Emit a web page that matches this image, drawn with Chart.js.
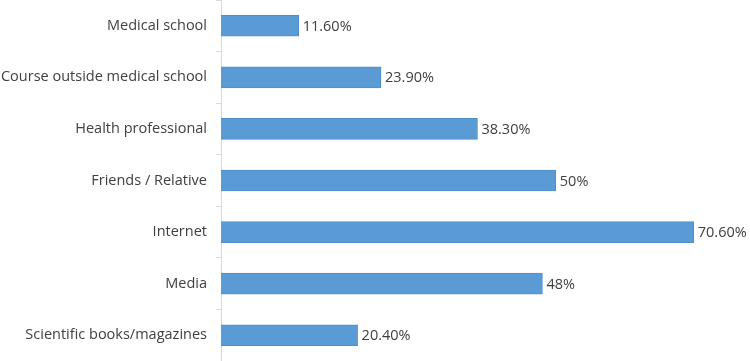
<!DOCTYPE html>
<html>
<head>
<meta charset="utf-8">
<script src="https://cdn.jsdelivr.net/npm/chart.js@4/dist/chart.umd.min.js"></script>
<style>
    html, body { margin: 0; padding: 0; background: #ffffff; }
    canvas { display: block; }
</style>
</head>
<body>
<canvas id="chart" width="750" height="361"></canvas>
<script>
const categories = [
    "Medical school",
    "Course outside medical school",
    "Health professional",
    "Friends / Relative",
    "Internet",
    "Media",
    "Scientific books/magazines",
];
const barValues = [11.6, 23.9, 38.3, 50, 70.6, 48, 20.4];
const valueLabels = ["11.60%", "23.90%", "38.30%", "50%", "70.60%", "48%", "20.40%"];

const textColor = "#404040";
const fontFamily = "'Open Sans', 'Noto Sans', sans-serif";

// draws the value text just past the end of each bar
const barLabelPlugin = {
    id: "barLabels",
    afterDatasetsDraw(chart) {
        const ctx = chart.ctx;
        const meta = chart.getDatasetMeta(0);
        ctx.save();
        ctx.font = "14.5px " + fontFamily;
        ctx.fillStyle = textColor;
        ctx.textAlign = "left";
        ctx.textBaseline = "middle";
        meta.data.forEach((bar, i) => {
            ctx.fillText(valueLabels[i], bar.x + 4, bar.y + 1);
        });
        ctx.restore();
    },
};

new Chart(document.getElementById("chart"), {
    type: "bar",
    data: {
        labels: categories,
        datasets: [
            {
                data: barValues,
                backgroundColor: "#5b9bd5",
                borderColor: "#4f8fcb",
                borderWidth: 1,
                barThickness: 21,
            },
        ],
    },
    options: {
        indexAxis: "y",
        responsive: false,
        animation: false,
        layout: { padding: 0 },
        plugins: {
            legend: { display: false },
            tooltip: { enabled: false },
        },
        scales: {
            x: {
                display: false,
                min: 0,
                max: 79,
            },
            y: {
                afterFit(scale) {
                    scale.width = 221;
                    scale.paddingTop = 0;
                    scale.paddingBottom = 0;
                },
                border: { display: true, color: "#d9d9d9", width: 1 },
                grid: {
                    display: true,
                    offset: true,
                    drawOnChartArea: false,
                    drawTicks: true,
                    tickLength: 5,
                    color: "#d9d9d9",
                },
                ticks: {
                    padding: 9,
                    color: textColor,
                    font: { family: fontFamily, size: 14.5 },
                },
            },
        },
    },
    plugins: [barLabelPlugin],
});
</script>
</body>
</html>
